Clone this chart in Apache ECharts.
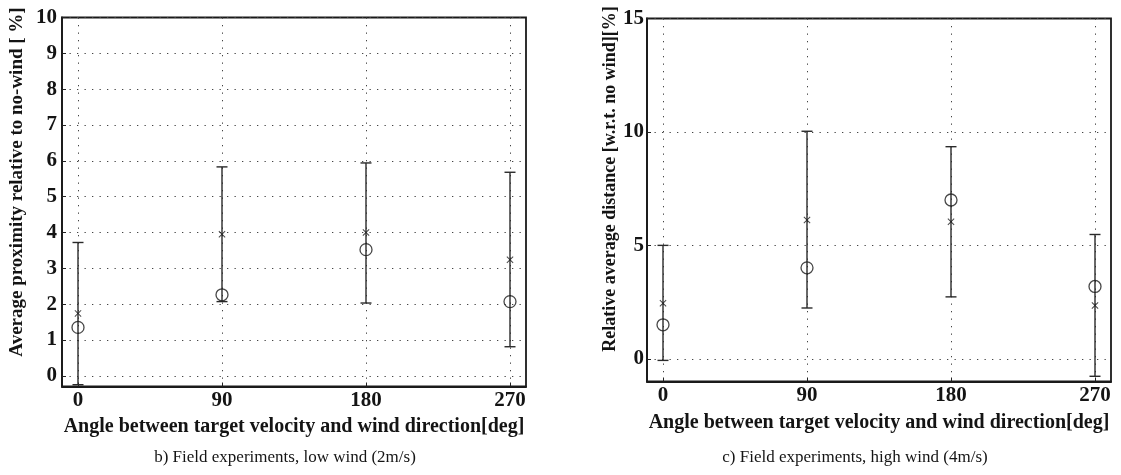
<!DOCTYPE html>
<html>
<head>
<meta charset="utf-8">
<script src="https://cdn.jsdelivr.net/npm/echarts@6/dist/echarts.min.js"></script>
<style>
  html, body { margin: 0; padding: 0; background: #fff; }
  #chart { width: 1121px; height: 475px; }
</style>
</head>
<body>
<div id="chart"></div>
<script>
// angles of the four runs
const angles = [0, 90, 180, 270];
const angleTicks = [0, 90, 180, 270];

// b) low wind
const lowWindCircle = [1.35, 2.26, 3.52, 2.07];
const lowWindCross = [1.74, 3.95, 4.0, 3.24];
const lowWindLow = [-0.25, 2.07, 2.03, 0.81];
const lowWindHigh = [3.72, 5.83, 5.94, 5.68];
const lowWindTicks = [0, 1, 2, 3, 4, 5, 6, 7, 8, 9, 10];

// c) high wind
const highWindCircle = [1.5, 4.01, 7.0, 3.19];
const highWindCross = [2.45, 6.12, 6.04, 2.35];
const highWindLow = [-0.07, 2.24, 2.73, -0.77];
const highWindHigh = [5.0, 10.03, 9.35, 5.48];
const highWindTicks = [0, 5, 10, 15];

const serif = '"Liberation Serif", "DejaVu Serif", serif';
const ink = '#141414';
const crossPath = 'path://M0,1L1,0L5,4L9,0L10,1L6,5L10,9L9,10L5,6L1,10L0,9L4,5Z';

function errorBar(params, api) {
    const x = api.value(0);
    const lo = api.coord([x, api.value(1)]);
    const hi = api.coord([x, api.value(2)]);
    const w = 5.5;
    const st = { stroke: '#2a2a2a', lineWidth: 1.4 };
    return {
        type: 'group',
        children: [
            { type: 'line', shape: { x1: lo[0], y1: lo[1], x2: hi[0], y2: hi[1] }, style: st },
            { type: 'line', shape: { x1: hi[0] - w, y1: hi[1], x2: hi[0] + w, y2: hi[1] }, style: st },
            { type: 'line', shape: { x1: lo[0] - w, y1: lo[1], x2: lo[0] + w, y2: lo[1] }, style: st }
        ]
    };
}

function xAxisFor(gridIndex, gap) {
    return {
        type: 'value', gridIndex: gridIndex, min: -10, max: 280,
        name: 'Angle between target velocity and wind direction[deg]',
        nameLocation: 'middle', nameGap: gap,
        nameTextStyle: { fontFamily: serif, fontWeight: 'bold', fontSize: 20, color: ink },
        axisLine: { show: true, onZero: false, lineStyle: { color: '#1a1a1a', width: 1.8 } },
        axisTick: { show: true, inside: true, length: 4, customValues: angleTicks, lineStyle: { color: '#222' } },
        axisLabel: { customValues: angleTicks, margin: 4, fontFamily: serif, fontWeight: 'bold', fontSize: 21, color: ink },
        splitLine: { show: true, lineStyle: { type: [1.3, 6.2], color: '#444', width: 1 } }
    };
}

function yAxisFor(gridIndex, min, max, ticks, name, size, gap, shift, margin) {
    return {
        type: 'value', gridIndex: gridIndex, min: min, max: max,
        name: name, nameLocation: 'middle', nameGap: gap,
        nameTextStyle: { fontFamily: serif, fontWeight: 'bold', fontSize: size, color: ink, padding: [0, 0, 0, shift] },
        axisLine: { show: true, onZero: false, lineStyle: { color: '#1a1a1a', width: 1.8 } },
        axisTick: { show: true, inside: true, length: 4, customValues: ticks, lineStyle: { color: '#222' } },
        axisLabel: { customValues: ticks, margin: margin, fontFamily: serif, fontWeight: 'bold', fontSize: 21, color: ink },
        splitLine: { show: true, lineStyle: { type: [1.3, 6.2], color: '#444', width: 1 } }
    };
}

function seriesFor(idx, circle, cross, low, high) {
    return [
        {
            type: 'custom', xAxisIndex: idx, yAxisIndex: idx,
            renderItem: errorBar,
            data: angles.map((a, i) => [a, low[i], high[i]]),
            z: 2
        },
        {
            type: 'scatter', xAxisIndex: idx, yAxisIndex: idx,
            symbol: 'circle', symbolSize: 12,
            itemStyle: { color: 'rgba(0,0,0,0)', borderColor: '#1a1a1a', borderWidth: 1.3 },
            data: angles.map((a, i) => [a, circle[i]]),
            z: 3
        },
        {
            type: 'scatter', xAxisIndex: idx, yAxisIndex: idx,
            symbol: crossPath, symbolSize: 7,
            itemStyle: { color: '#1a1a1a' },
            data: angles.map((a, i) => [a, cross[i]]),
            z: 3
        }
    ];
}

const chart = echarts.init(document.getElementById('chart'), null, { renderer: 'canvas' });
const option = {
    animation: false,
    backgroundColor: '#fff',
    grid: [
        { left: 62, top: 17.5, width: 464, height: 369, show: true, borderColor: '#1a1a1a', borderWidth: 1.8 },
        { left: 647, top: 18.5, width: 464, height: 363, show: true, borderColor: '#1a1a1a', borderWidth: 1.8 }
    ],
    xAxis: [xAxisFor(0, 26), xAxisFor(1, 31)],
    yAxis: [
        yAxisFor(0, -0.3, 10, lowWindTicks, 'Average proximity relative to no-wind [ %]', 19, 35, 40, 5),
        yAxisFor(1, -1, 15, highWindTicks, 'Relative average distance [w.r.t. no wind][%]', 18, 24, 42, 3)
    ],
    graphic: [
        { type: 'text', x: 285, y: 458, style: { text: 'b) Field experiments, low wind (2m/s)', font: '17px ' + serif, fill: ink, align: 'center', verticalAlign: 'middle' } },
        { type: 'text', x: 855, y: 458, style: { text: 'c) Field experiments, high wind (4m/s)', font: '17px ' + serif, fill: ink, align: 'center', verticalAlign: 'middle' } }
    ],
    series: seriesFor(0, lowWindCircle, lowWindCross, lowWindLow, lowWindHigh)
        .concat(seriesFor(1, highWindCircle, highWindCross, highWindLow, highWindHigh))
};
chart.setOption(option);
</script>
</body>
</html>
